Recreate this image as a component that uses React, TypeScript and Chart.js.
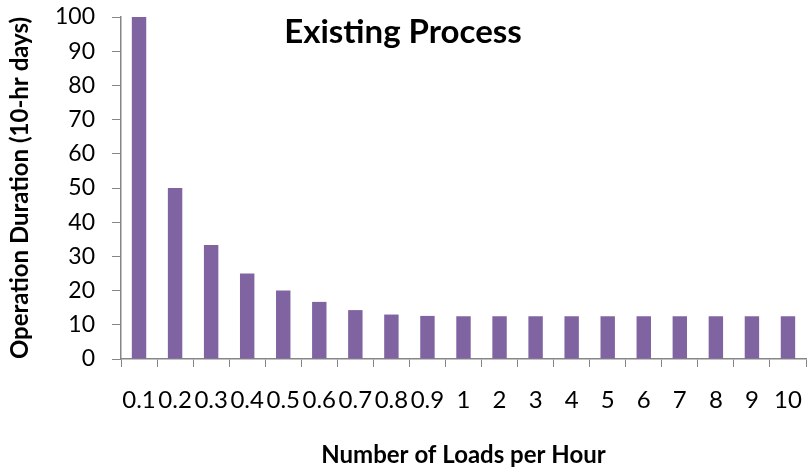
import React, { useEffect, useRef } from "react";
import { Chart, registerables } from "chart.js";

Chart.register(...registerables);

const categories = ["0.1", "0.2", "0.3", "0.4", "0.5", "0.6", "0.7", "0.8", "0.9", "1", "2", "3", "4", "5", "6", "7", "8", "9", "10"];
const durations = [100, 50, 33.3, 25, 20, 16.7, 14.3, 13, 12.6, 12.5, 12.5, 12.5, 12.5, 12.5, 12.5, 12.5, 12.5, 12.5, 12.5];
const chartTitle = "Existing Process";
const xTitle = "Number of Loads per Hour";
const yTitle = "Operation Duration (10-hr days)";

const FONT = "Lato, 'Open Sans', sans-serif";
const AXIS = "#868686";

const titlePlugin = {
  id: "overlayTitle",
  afterDraw(chart: any) {
    const ctx = chart.ctx;
    ctx.save();
    ctx.font = `bold 33px ${FONT}`;
    ctx.fillStyle = "#000";
    ctx.textAlign = "center";
    ctx.textBaseline = "alphabetic";
    ctx.fillText(chartTitle, 403, 43);
    ctx.restore();
  },
};

export default function App() {
  const ref = useRef<HTMLCanvasElement | null>(null);
  useEffect(() => {
    if (!ref.current) return;
    const chart = new Chart(ref.current, {
      type: "bar",
      data: {
        labels: categories,
        datasets: [
          {
            data: durations,
            backgroundColor: "#8064A2",
            borderWidth: 0,
            barPercentage: 0.4,
            categoryPercentage: 1,
          },
        ],
      },
      options: {
        responsive: false,
        animation: false,
        layout: { padding: { top: 17, right: 3, bottom: 0, left: 0 } },
        plugins: { legend: { display: false }, tooltip: { enabled: false }, title: { display: false } },
        scales: {
          x: {
            offset: true,
            grid: { display: true, offset: true, drawOnChartArea: false, drawTicks: true, tickLength: 8, tickColor: AXIS, lineWidth: 1 },
            border: { display: true, color: AXIS, width: 1.5 },
            ticks: { autoSkip: false, maxRotation: 0, minRotation: 0, color: "#000", font: { family: FONT, size: 24 }, padding: 19 },
            title: { display: true, text: xTitle, color: "#000", font: { family: FONT, size: 24, weight: "bold" }, padding: { top: 0, bottom: 4 } },
            afterFit(scale: any) {
              scale.height = 115;
              scale.paddingLeft = 0;
              scale.paddingRight = 0;
            },
          },
          y: {
            min: 0,
            max: 100,
            grid: { display: true, drawOnChartArea: false, drawTicks: true, tickLength: 9, tickColor: AXIS, lineWidth: 1 },
            border: { display: true, color: AXIS, width: 1.5 },
            ticks: { stepSize: 10, color: "#000", font: { family: FONT, size: 23 }, padding: 17 },
            title: { display: true, text: yTitle, color: "#000", font: { family: FONT, size: 24, weight: "bold" }, padding: { top: 6, bottom: 0 } },
            afterFit(scale: any) {
              scale.width = 121;
              scale.paddingTop = 0;
              scale.paddingBottom = 0;
            },
          },
        },
      },
      plugins: [titlePlugin],
    });
    return () => chart.destroy();
  }, []);
  return (
    <div style={{ position: "fixed", left: 0, top: 0, width: 809, height: 474, background: "#fff" }}>
      <canvas ref={ref} width={809} height={474} style={{ width: 809, height: 474 }} />
    </div>
  );
}
